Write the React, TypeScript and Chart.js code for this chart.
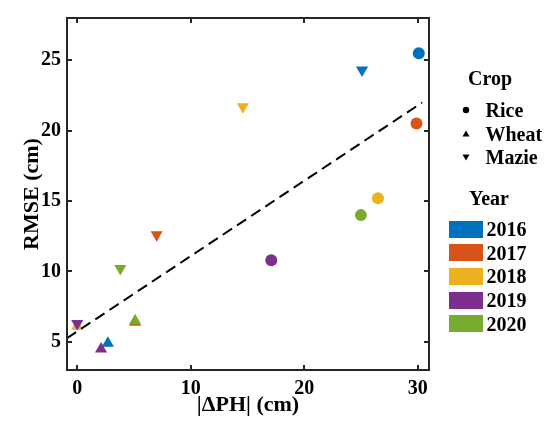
import React, { useEffect, useRef } from "react";
import { Chart, registerables } from "chart.js";

Chart.register(...registerables);

const years = ["2016", "2017", "2018", "2019", "2020"];
const yearColors = ["#0072BD", "#D95319", "#EDB120", "#7E2F8E", "#77AC30"];
const crops = ["Rice", "Wheat", "Mazie"];

// |ΔPH| (cm) and RMSE (cm) per year (2016..2020) for each crop
const riceDPH = [30.1, 29.9, 26.5, 17.1, 25.0];
const riceRMSE = [25.5, 20.5, 15.2, 10.8, 14.0];
const wheatDPH = [2.7, 5.1, 0.0, 2.1, 5.1];
const wheatRMSE = [4.9, 6.4, 6.1, 4.5, 6.5];
const mazieDPH = [25.1, 7.0, 14.6, 0.0, 3.8];
const mazieRMSE = [24.3, 12.6, 21.7, 6.3, 10.2];

// dashed fit line end points
const fitDPH = [-0.9, 30.4];
const fitRMSE = [5.26, 22.0];

const xTicks = [0, 10, 20, 30];
const yTicks = [5, 10, 15, 20, 25];
const xRange = [-0.9, 31];
const yRange = [3, 28];

const FONT = "'Times New Roman', 'Liberation Serif', serif";
const AXIS = "#262626";

const framePlugin = {
  id: "frame",
  afterDraw(chart: any) {
    const { ctx, chartArea, scales } = chart;
    const { left, right, top, bottom } = chartArea;
    const x = scales.x;
    const y = scales.y;
    ctx.save();
    ctx.strokeStyle = AXIS;
    ctx.lineWidth = 2;
    ctx.strokeRect(left, top, right - left, bottom - top);
    ctx.beginPath();
    const tl = 5;
    xTicks.forEach((v) => {
      const px = Math.round(x.getPixelForValue(v));
      ctx.moveTo(px, bottom);
      ctx.lineTo(px, bottom - tl);
      ctx.moveTo(px, top);
      ctx.lineTo(px, top + tl);
    });
    yTicks.forEach((v) => {
      const py = Math.round(y.getPixelForValue(v));
      ctx.moveTo(left, py);
      ctx.lineTo(left + tl, py);
      ctx.moveTo(right, py);
      ctx.lineTo(right - tl, py);
    });
    ctx.stroke();
    ctx.restore();
  },
};

function cropDataset(label: string, dph: number[], rmse: number[], style: string, rot: number, order: number) {
  return {
    type: "scatter" as const,
    label,
    data: dph.map((v, i) => ({ x: v, y: rmse[i] })),
    backgroundColor: yearColors,
    borderColor: yearColors,
    borderWidth: 0,
    pointStyle: style,
    rotation: rot,
    pointRadius: style === "circle" ? 6 : 7,
    order,
  };
}

function ChartCanvas() {
  const ref = useRef<HTMLCanvasElement | null>(null);
  useEffect(() => {
    if (!ref.current) return;
    const chart = new Chart(ref.current, {
      type: "scatter",
      data: {
        datasets: [
          {
            type: "line",
            label: "fit",
            data: fitDPH.map((v, i) => ({ x: v, y: fitRMSE[i] })),
            borderColor: "#000000",
            borderWidth: 2,
            borderDash: [11, 6],
            pointRadius: 0,
            fill: false,
            order: 0,
          } as any,
          cropDataset(crops[2], mazieDPH, mazieRMSE, "triangle", 180, 1),
          cropDataset(crops[1], wheatDPH, wheatRMSE, "triangle", 0, 2),
          cropDataset(crops[0], riceDPH, riceRMSE, "circle", 0, 3),
        ],
      },
      options: {
        animation: false,
        responsive: false,
        maintainAspectRatio: false,
        layout: { padding: { left: 0, top: 11, right: 121, bottom: 0 } },
        plugins: { legend: { display: false }, tooltip: { enabled: false } },
        scales: {
          x: {
            type: "linear",
            min: xRange[0],
            max: xRange[1],
            grid: { display: false, drawTicks: false },
            border: { display: false },
            afterBuildTicks: (s: any) => {
              s.ticks = xTicks.map((v) => ({ value: v }));
            },
            afterFit: (s: any) => {
              s.height = 59;
            },
            ticks: {
              padding: 7,
              color: "#000",
              font: { family: FONT, size: 20, weight: "bold" },
            },
            title: {
              display: true,
              text: "|ΔPH| (cm)",
              color: "#000",
              font: { family: FONT, size: 22, weight: "bold" },
              padding: { top: 0, bottom: 10 },
            },
          },
          y: {
            type: "linear",
            min: yRange[0],
            max: yRange[1],
            grid: { display: false, drawTicks: false },
            border: { display: false },
            afterBuildTicks: (s: any) => {
              s.ticks = yTicks.map((v) => ({ value: v }));
            },
            afterFit: (s: any) => {
              s.width = 67;
            },
            ticks: {
              padding: 6,
              color: "#000",
              font: { family: FONT, size: 20, weight: "bold" },
            },
            title: {
              display: true,
              text: "RMSE (cm)",
              color: "#000",
              font: { family: FONT, size: 22, weight: "bold" },
              padding: { top: 19, bottom: 0 },
            },
          },
        },
      } as any,
      plugins: [framePlugin],
    });
    return () => chart.destroy();
  }, []);
  return <canvas ref={ref} width={550} height={429} style={{ position: "absolute", left: 0, top: 0, width: 550, height: 429 }} />;
}

const textStyle: React.CSSProperties = {
  position: "absolute",
  fontFamily: FONT,
  fontWeight: "bold",
  fontSize: 20,
  lineHeight: "20px",
  color: "#000",
  whiteSpace: "nowrap",
};

function CropMarker({ kind, cx, cy }: { kind: string; cx: number; cy: number }) {
  const s = 10;
  let shape;
  if (kind === "Rice") shape = <circle cx={5} cy={5} r={3.2} fill="#000" />;
  else if (kind === "Wheat") shape = <polygon points="5,1.5 8.5,7.5 1.5,7.5" fill="#000" />;
  else shape = <polygon points="1.5,2.5 8.5,2.5 5,8.5" fill="#000" />;
  return (
    <svg width={s} height={s} style={{ position: "absolute", left: cx - 5, top: cy - 5 }}>
      {shape}
    </svg>
  );
}

function Legend() {
  const cropY = [110, 134, 157];
  const yearStart = 229;
  const yearStep = 23.7;
  return (
    <>
      <div style={{ ...textStyle, left: 468, top: 68 }}>Crop</div>
      {crops.map((c, i) => (
        <React.Fragment key={c}>
          <CropMarker kind={c} cx={466} cy={cropY[i]} />
          <div style={{ ...textStyle, left: 485.5, top: cropY[i] - 10 }}>{c}</div>
        </React.Fragment>
      ))}
      <div style={{ ...textStyle, left: 469, top: 188 }}>Year</div>
      {years.map((yr, i) => {
        const cy = yearStart + i * yearStep;
        return (
          <React.Fragment key={yr}>
            <div
              style={{
                position: "absolute",
                left: 449,
                top: cy - 8.5,
                width: 34,
                height: 17,
                background: yearColors[i],
              }}
            />
            <div style={{ ...textStyle, left: 486.5, top: cy - 10 }}>{yr}</div>
          </React.Fragment>
        );
      })}
    </>
  );
}

export default function App() {
  return (
    <div
      style={{
        position: "fixed",
        left: 0,
        top: 0,
        width: 550,
        height: 429,
        background: "#ffffff",
        overflow: "hidden",
      }}
    >
      <ChartCanvas />
      <Legend />
    </div>
  );
}
